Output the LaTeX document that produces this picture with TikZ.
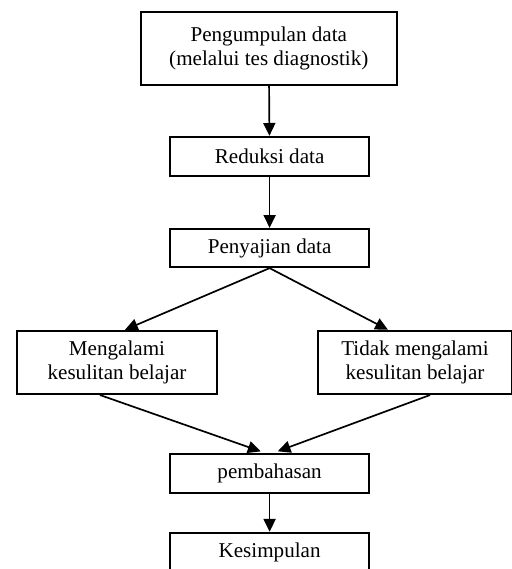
\documentclass[tikz,border=0pt]{standalone}
\usepackage{fontspec}
\setmainfont{Liberation Serif}
\usepackage{tikz}
\usetikzlibrary{arrows.meta}
\usepackage{xcolor}

\begin{document}
\begin{tikzpicture}[scale=1,
            caja/.style={draw,line width=1.6pt,align=center,inner sep=0pt,
                         font=\fontsize{15}{17.5}\selectfont},
            flecha/.style={line width=1.2pt,-{Triangle[length=0.32cm,width=0.3cm]}}]
            \useasboundingbox (0,0) rectangle (12.8,-14.225); % marco
            \node[caja,minimum width=6.4cm,minimum height=1.825cm] (datos) at (6.72,-1.21)
                 {Pengumpulan data\\(melalui tes diagnostik)};
            \node[caja,minimum width=4.975cm,minimum height=0.975cm] (reduksi) at (6.74,-3.91) {Reduksi data};
            \node[caja,minimum width=4.975cm,minimum height=0.95cm] (sajian) at (6.74,-6.2) {Penyajian data};
            \node[caja,minimum width=5.0cm,minimum height=1.575cm] (sulit) at (2.925,-9.06)
                 {Mengalami\\kesulitan belajar};
            \node[caja,minimum width=4.85cm,minimum height=1.575cm] (tidak) at (10.375,-9.06)
                 {Tidak mengalami\\kesulitan belajar};
            \node[caja,minimum width=4.975cm,minimum height=0.975cm] (bahas) at (6.74,-11.84) {pembahasan};
            \node[caja,minimum width=4.975cm,minimum height=0.975cm] (simpul) at (6.74,-13.81) {Kesimpulan};
            \draw[flecha] (datos) -- (reduksi);
            \draw[flecha] (reduksi) -- (sajian);
            \draw[flecha] (sajian.south) -- ([xshift=0.2cm]sulit.north); % rama izq
            \draw[flecha] (sajian.south) -- ([xshift=-0.675cm]tidak.north); % rama der
            \draw[flecha,shorten >=0.12cm] ([xshift=-0.425cm]sulit.south) -- ([xshift=-0.11cm]bahas.north);
            \draw[flecha,shorten >=0.12cm] ([xshift=0.375cm]tidak.south) -- ([xshift=0.09cm]bahas.north);
            \draw[flecha] (bahas) -- (simpul);
\end{tikzpicture}
\end{document}
